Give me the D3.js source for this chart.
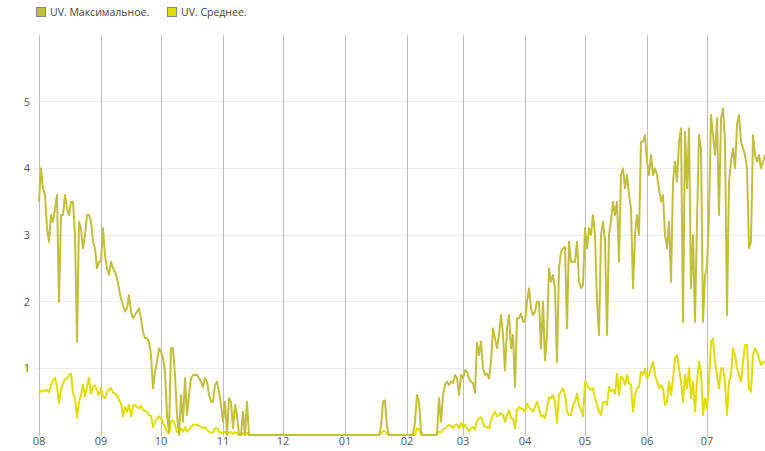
<!DOCTYPE html>
<html><head><meta charset="utf-8">
<script src="https://cdn.jsdelivr.net/npm/d3@7"></script>
<style>
body{margin:0;background:#fff;}
svg{display:block;font-family:"Open Sans",sans-serif;}
</style></head>
<body><svg id="c" width="765" height="451"></svg>
<script>
const startDate = "2013-08-01";
const endDate = "2014-07-31";
const monthLabels = ["08","09","10","11","12","01","02","03","04","05","06","07"];
const yTicks = [1,2,3,4,5];
const seriesNames = ["UV. Максимальное.","UV. Среднее."];
const seriesColors = ["#c1bf3b","#e1dd00"];

const uvMax = [
 3.5,4.0,3.7,3.6,3.1,2.9,3.3,3.2,3.4,3.6,2.0,3.3,3.3,3.6,3.4,3.3,3.5,3.5,3.0,1.4,3.2,3.1,2.8,3.0,3.3,3.3,3.2,2.9,2.8,2.5,2.6,
 2.6,3.1,2.7,2.5,2.4,2.6,2.5,2.45,2.35,2.2,2.05,1.95,1.85,1.9,2.1,1.85,1.75,1.8,1.85,1.9,1.75,1.55,1.45,1.45,1.4,1.2,0.7,0.95,1.1,1.3,
 1.25,1.15,0.95,0.3,0.05,1.3,1.3,0.9,0.3,0.0,0.6,0.2,0.85,0.3,0.6,0.85,0.9,0.9,0.9,0.85,0.8,0.72,0.85,0.8,0.6,0.5,0.5,0.75,0.8,0.65,0.45,
 0.2,0.5,0.0,0.55,0.5,0.1,0.45,0.3,0.0,0.0,0.35,0.0,0.5,0,0,0,0,0,0,0,0,0,0,0,0,0,0,0,0,0,
 0,0,0,0,0,0,0,0,0,0,0,0,0,0,0,0,0,0,0,0,0,0,0,0,0,0,0,0,0,0,0,
 0,0,0,0,0,0,0,0,0,0,0,0,0,0,0,0,0,0,0.12,0.5,0.52,0.12,0,0,0,0,0,0,0,0,0,
 0,0,0,0,0.2,0.6,0.5,0.05,0,0,0,0,0,0,0,0,0.55,0.2,0.6,0.75,0.8,0.75,0.8,0.78,0.9,0.85,0.6,0.9,
 0.85,0.97,0.95,0.85,0.8,0.78,0.63,1.38,1.2,1.4,1.0,0.9,0.92,0.85,1.1,1.6,1.45,1.3,1.5,1.8,1.5,0.97,1.6,1.8,1.3,1.5,0.72,1.75,1.75,1.82,1.7,
 1.7,2.0,2.2,1.9,1.8,1.85,2.0,2.0,1.3,2.0,1.12,1.5,2.5,2.3,2.4,2.2,1.1,2.5,2.75,2.8,2.82,1.6,2.9,2.6,2.6,2.6,2.9,2.3,2.2,2.25,
 3.1,2.8,3.1,3.0,3.3,3.0,2.0,1.5,3.0,3.2,2.9,1.5,3.0,3.2,3.5,3.3,3.5,2.6,3.9,4.0,3.7,3.9,3.6,3.4,2.2,3.0,3.3,3.0,4.4,4.4,4.5,
 4.1,3.9,4.2,3.9,4.0,3.9,3.7,3.5,3.6,3.0,2.8,3.2,2.3,3.8,4.1,3.8,4.4,4.6,1.7,4.55,3.7,4.6,2.2,3.0,1.7,3.2,4.5,4.3,1.7,2.4,
 2.5,3.3,4.8,4.5,4.2,4.75,3.3,4.75,4.9,4.4,1.8,3.8,4.1,4.3,4.0,4.65,4.8,4.4,4.3,4.2,4.0,2.8,2.9,4.5,4.2,4.1,4.2,4.0,4.1,4.2
];
const uvAvg = [
 0.62,0.66,0.67,0.66,0.68,0.64,0.75,0.82,0.86,0.72,0.48,0.68,0.78,0.84,0.85,0.90,0.92,0.62,0.55,0.26,0.5,0.6,0.75,0.58,0.72,0.86,0.62,0.72,0.74,0.66,0.6,
 0.7,0.58,0.55,0.65,0.68,0.7,0.64,0.62,0.6,0.52,0.48,0.28,0.42,0.35,0.45,0.28,0.44,0.45,0.42,0.40,0.44,0.38,0.36,0.35,0.3,0.28,0.12,0.2,0.24,0.28,
 0.25,0.18,0.12,0.05,0.02,0.2,0.22,0.15,0.05,0.02,0.1,0.05,0.12,0.05,0.08,0.12,0.15,0.16,0.15,0.14,0.12,0.1,0.12,0.08,0.05,0.03,0.04,0.1,0.1,0.05,0.03,
 0.04,0.05,0.0,0.04,0.04,0.02,0.04,0.03,0.0,0.0,0.03,0.0,0.03,0,0,0,0,0,0,0,0,0,0,0,0,0,0,0,0,0,
 0,0,0,0,0,0,0,0,0,0,0,0,0,0,0,0,0,0,0,0,0,0,0,0,0,0,0,0,0,0,0,
 0,0,0,0,0,0,0,0,0,0,0,0,0,0,0,0,0,0,0.02,0.06,0.06,0.02,0,0,0,0,0,0,0,0,0,
 0,0,0,0,0,0.1,0.08,0,0,0,0,0,0,0,0,0.02,0.05,0.04,0.08,0.1,0.13,0.15,0.14,0.1,0.15,0.16,0.1,0.18,
 0.12,0.15,0.1,0.05,0.1,0.12,0.08,0.22,0.25,0.27,0.18,0.12,0.12,0.1,0.22,0.3,0.35,0.28,0.3,0.33,0.3,0.2,0.3,0.37,0.25,0.25,0.1,0.38,0.42,0.4,0.38,
 0.35,0.47,0.42,0.38,0.35,0.42,0.5,0.4,0.28,0.3,0.25,0.4,0.57,0.55,0.6,0.5,0.18,0.6,0.65,0.7,0.6,0.35,0.3,0.3,0.45,0.5,0.62,0.45,0.38,0.28,
 0.8,0.75,0.7,0.68,0.7,0.55,0.45,0.35,0.3,0.5,0.5,0.45,0.72,0.65,0.68,0.62,0.92,0.6,0.88,0.85,0.75,0.9,0.78,0.75,0.35,0.6,0.7,0.72,0.95,0.9,1.0,
 0.85,0.9,1.0,1.1,0.9,0.8,0.7,0.75,0.7,0.45,0.5,0.8,0.6,0.85,1.15,1.2,1.0,0.8,0.5,0.9,0.7,1.0,0.55,0.8,0.35,0.8,1.1,0.95,0.3,0.55,
 0.4,0.8,1.4,1.45,1.1,0.9,0.7,1.0,1.0,0.8,0.3,0.8,0.9,1.3,1.2,1.0,0.9,0.8,1.1,1.35,1.35,0.7,0.65,1.2,1.3,1.25,1.15,1.05,1.1,1.1
];

const svg = d3.select("#c");
const W = 765, H = 451;
const parse = d3.utcParse("%Y-%m-%d");
const t0 = parse(startDate), t1 = parse(endDate);
const x = d3.scaleUtc().domain([t0, t1]).range([39, 767]);
const y = d3.scaleLinear().domain([0, 6]).range([435, 35]);

const dates = uvMax.map((_, i) => d3.utcDay.offset(t0, i));

// horizontal grid
svg.append("g").selectAll("line").data(yTicks).join("line")
  .attr("x1", 35).attr("x2", W).attr("y1", d => y(d)).attr("y2", d => y(d))
  .attr("stroke", "#ececec").attr("stroke-width", 1).attr("shape-rendering","crispEdges");

// vertical month grid
const months = d3.utcMonth.range(t0, t1);
svg.append("g").selectAll("line").data(months).join("line")
  .attr("x1", d => Math.round(x(d)) + 0.5).attr("x2", d => Math.round(x(d)) + 0.5)
  .attr("y1", 35).attr("y2", 436)
  .attr("stroke", "#bdbdbd").attr("stroke-width", 1);

// y labels
svg.append("g").selectAll("text").data(yTicks).join("text")
  .attr("x", 30).attr("y", d => y(d) + 4).attr("text-anchor", "end")
  .attr("font-size", 11).attr("fill", "#555").text(d => d);

// x labels
svg.append("g").selectAll("text").data(months).join("text")
  .attr("x", d => x(d)).attr("y", 445).attr("text-anchor", "middle")
  .attr("font-size", 11).attr("fill", "#555").text((d, i) => monthLabels[i]);

svg.append("clipPath").attr("id","clp").append("rect")
  .attr("x", 30).attr("y", 30).attr("width", W - 30).attr("height", 410);

const line = d3.line().x((d, i) => x(dates[i])).y(d => y(d));
const plot = svg.append("g").attr("clip-path","url(#clp)");
plot.append("path").datum(uvAvg).attr("d", line)
  .attr("fill","none").attr("stroke", seriesColors[1]).attr("stroke-width", 2).attr("stroke-linejoin","round");
plot.append("path").datum(uvMax).attr("d", line)
  .attr("fill","none").attr("stroke", seriesColors[0]).attr("stroke-width", 2).attr("stroke-linejoin","round");

// legend
const legX = [36, 167];
const leg = svg.append("g").selectAll("g").data(seriesNames).join("g")
  .attr("transform", (d, i) => `translate(${legX[i]},7)`);
leg.append("rect").attr("x",0.5).attr("y",0.5).attr("width", 9).attr("height", 9)
  .attr("fill", (d, i) => seriesColors[i]).attr("stroke", "#888").attr("stroke-width", 1);
leg.append("text").attr("x", 14).attr("y", 8.5).attr("font-size", 10.5).attr("fill", "#444").text(d => d);
</script></body></html>
